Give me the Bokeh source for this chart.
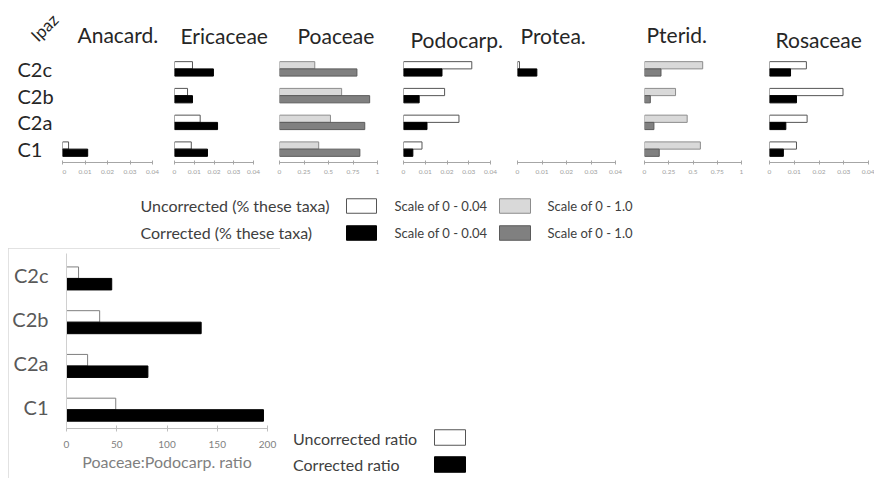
import math
from bokeh.plotting import figure
from bokeh.layouts import row, column
from bokeh.models import (Range1d, FactorRange, FixedTicker, NumeralTickFormatter,
                          ColumnDataSource, Spacer)
from bokeh.transform import dodge
from bokeh.embed import file_html
from bokeh.resources import INLINE
from bokeh.core.properties import value

NAN = float("nan")

# ---------------- data ----------------
samples = ["C1", "C2a", "C2b", "C2c"]          # bottom -> top
taxa = ["Anacard.", "Ericaceae", "Poaceae", "Podocarp.", "Protea.", "Pterid.", "Rosaceae"]
taxa_scale = [0.04, 0.04, 1.0, 0.04, 0.04, 1.0, 0.04]
ticks_small = [0, 0.01, 0.02, 0.03, 0.04]
ticks_large = [0, 0.25, 0.5, 0.75, 1.0]

anacard_uncorr = [0.0027, NAN, NAN, NAN]
anacard_corr = [0.0112, NAN, NAN, NAN]
ericaceae_uncorr = [0.0085, 0.0130, 0.0066, 0.0091]
ericaceae_corr = [0.0167, 0.0218, 0.0091, 0.0197]
poaceae_uncorr = [0.40, 0.52, 0.634, 0.36]
poaceae_corr = [0.82, 0.87, 0.92, 0.79]
podocarp_uncorr = [0.0085, 0.0255, 0.0189, 0.0314]
podocarp_corr = [0.0043, 0.0108, 0.0072, 0.0177]
protea_uncorr = [NAN, NAN, NAN, 0.0008]
protea_corr = [NAN, NAN, NAN, 0.0079]
pterid_uncorr = [0.576, 0.44, 0.32, 0.60]
pterid_corr = [0.152, 0.097, 0.06, 0.17]
rosaceae_uncorr = [0.0109, 0.0152, 0.0297, 0.0149]
rosaceae_corr = [0.0056, 0.0066, 0.0109, 0.0085]

ratio_uncorr = [49, 21, 33, 12]
ratio_corr = [196, 81, 134, 45]
ratio_ticks = [0, 50, 100, 150, 200]
ratio_title = "Poaceae:Podocarp. ratio"

uncorr_series = [anacard_uncorr, ericaceae_uncorr, poaceae_uncorr, podocarp_uncorr,
                 protea_uncorr, pterid_uncorr, rosaceae_uncorr]
corr_series = [anacard_corr, ericaceae_corr, poaceae_corr, podocarp_corr,
               protea_corr, pterid_corr, rosaceae_corr]

legend_rows = ["Uncorrected (% these taxa)", "Corrected (% these taxa)"]
legend_scales = ["Scale of 0 - 0.04", "Scale of 0 - 1.0"]
ratio_legend = ["Uncorrected ratio", "Corrected ratio"]
site_label = "Ipaz"

# ---------------- styles ----------------
FONT = "Lato"
DARK = "#262626"
small_uncorr = dict(fill_color="white", line_color="#555555")
small_corr = dict(fill_color="black", line_color="black")
large_uncorr = dict(fill_color="#d9d9d9", line_color="#8c8c8c")
large_corr = dict(fill_color="#808080", line_color="#5a5a5a")

TOP_H = 185
TOP_MB_TOP = 55
TOP_MB_BOT = 23
# (min_border_left, frame width, min_border_right, title offset, title standoff)
geom = [(0, 90, 11, 15, 17), (11, 79, 16, 6, 16), (10, 98, 13, 18, 16), (13, 87, 13, 7, 8),
        (14, 98, 14, 3, 16), (15, 97, 14, 2, 17), (14, 99, 6, 6, 8)]
BAR_H = 0.27


def clean(fig):
    fig.grid.visible = False
    fig.outline_line_color = None
    fig.background_fill_color = "white"
    fig.border_fill_color = "white"


def bare(width, height, xr, yr):
    f = figure(width=width, height=height, x_range=xr, y_range=yr,
               x_axis_type=None, y_axis_type=None, toolbar_location=None,
               output_backend="svg", min_border=0, min_border_left=0, min_border_right=0,
               min_border_top=0, min_border_bottom=0)
    clean(f)
    return f


def split(vals):
    ys, xs = [], []
    for s, v in zip(samples, vals):
        if not (isinstance(v, float) and math.isnan(v)):
            ys.append(s)
            xs.append(v)
    return ColumnDataSource(dict(sample=ys, val=xs))


# site label (rotated) above the sample labels
fi = bare(62, TOP_MB_TOP, Range1d(0, 62), Range1d(TOP_MB_TOP, 0))
fi.text(x=[37], y=[27], text=[site_label], angle=45, angle_units="deg",
        text_font=value(FONT), text_font_size=value("17px"), text_color=DARK,
        text_align="center", text_baseline="middle")

# sample labels, left aligned
f0 = figure(width=62, height=TOP_H - TOP_MB_TOP, x_range=Range1d(0, 1),
            y_range=FactorRange(*samples),
            x_axis_location=None, y_axis_location=None, toolbar_location=None,
            output_backend="svg", min_border_left=17, min_border_right=0,
            min_border_top=0, min_border_bottom=TOP_MB_BOT)
clean(f0)
f0.text(x=0, y="sample", text="sample", source=ColumnDataSource(dict(sample=samples)),
        text_font=value(FONT), text_font_size=value("20px"), text_color=DARK,
        text_align="left", text_baseline="middle")

figs = [column(fi, f0)]
for i, name in enumerate(taxa):
    mbl, fw, mbr, toff, tstand = geom[i]
    scale = taxa_scale[i]
    f = figure(width=mbl + fw + mbr, height=TOP_H, x_range=Range1d(0, scale),
               y_range=FactorRange(*samples), y_axis_location=None,
               toolbar_location=None, output_backend="svg",
               min_border_left=mbl, min_border_right=mbr,
               min_border_top=TOP_MB_TOP, min_border_bottom=TOP_MB_BOT, title=name)
    clean(f)
    f.title.align = "left"
    f.title.offset = toff
    f.title.standoff = tstand
    f.title.text_font = FONT
    f.title.text_font_size = "21px"
    f.title.text_font_style = "normal"
    f.title.text_color = DARK
    st_u, st_c = (small_uncorr, small_corr) if scale < 0.5 else (large_uncorr, large_corr)
    f.hbar(y=dodge("sample", BAR_H / 2, range=f.y_range), left=0, right="val",
           height=BAR_H, source=split(uncorr_series[i]), line_width=1, **st_u)
    f.hbar(y=dodge("sample", -BAR_H / 2, range=f.y_range), left=0, right="val",
           height=BAR_H, source=split(corr_series[i]), line_width=1, **st_c)
    ax = f.xaxis[0]
    ax.ticker = FixedTicker(ticks=ticks_small if scale < 0.5 else ticks_large)
    ax.formatter = NumeralTickFormatter(format="0.[00]")
    ax.axis_line_color = "#a6a6a6"
    ax.major_tick_line_color = "#a6a6a6"
    ax.major_tick_in = 2
    ax.major_tick_out = 2
    ax.minor_tick_line_color = None
    ax.major_label_text_font = FONT
    ax.major_label_text_font_size = "6.5px"
    ax.major_label_text_color = "#a0a0a0"
    ax.major_label_standoff = 5
    figs.append(f)

top = row(*figs)

# legend for the top panels
leg = bare(874, 60, Range1d(0, 874), Range1d(60, 0))
row_y = [20, 47]
leg.text(x=[140, 140], y=row_y, text=legend_rows, text_font=value(FONT),
         text_font_size=value("16px"), text_color="#404040", text_align="left",
         text_baseline="middle")
leg.text(x=[394, 394, 547, 547], y=row_y + row_y, text=[legend_scales[0]] * 2 + [legend_scales[1]] * 2,
         text_font=value(FONT), text_font_size=value("13px"), text_color="#404040",
         text_align="left", text_baseline="middle")
leg.rect(x=[361, 361], y=[20.5, 47.5], width=30, height=14.5,
         fill_color=[small_uncorr["fill_color"], small_corr["fill_color"]],
         line_color=[small_uncorr["line_color"], small_corr["line_color"]])
leg.rect(x=[514.5, 514.5], y=[20.5, 47.5], width=31, height=14.5,
         fill_color=[large_uncorr["fill_color"], large_corr["fill_color"]],
         line_color=[large_uncorr["line_color"], large_corr["line_color"]])

# ratio chart
RH = 0.263
ROFF = -0.07
fr = figure(width=272, height=230, x_range=Range1d(0, 200), y_range=FactorRange(*samples),
            toolbar_location=None, output_backend="svg",
            min_border_left=58, min_border_right=13, min_border_top=5, min_border_bottom=50,
            styles={"outline": "1px solid #d9d9d9", "outline-offset": "-1px"})
clean(fr)
src_r = ColumnDataSource(dict(sample=samples, unc=ratio_uncorr, cor=ratio_corr))
fr.hbar(y=dodge("sample", ROFF + RH / 2, range=fr.y_range), left=0, right="unc", height=RH,
        source=src_r, fill_color="white", line_color="#7f7f7f", line_width=1)
fr.hbar(y=dodge("sample", ROFF - RH / 2, range=fr.y_range), left=0, right="cor", height=RH,
        source=src_r, fill_color="black", line_color="black", line_width=1)
xa = fr.xaxis[0]
xa.ticker = FixedTicker(ticks=ratio_ticks)
xa.axis_line_color = "#bfbfbf"
xa.major_tick_line_color = "#bfbfbf"
xa.major_tick_in = 3
xa.major_tick_out = 3
xa.minor_tick_line_color = None
xa.major_label_text_font = FONT
xa.major_label_text_font_size = "10px"
xa.major_label_text_color = "#808080"
xa.major_label_standoff = 9
xa.axis_label = ratio_title
xa.axis_label_text_font = FONT
xa.axis_label_text_font_size = "16px"
xa.axis_label_text_font_style = "normal"
xa.axis_label_text_color = "#7f7f7f"
xa.axis_label_standoff = 1
ya = fr.yaxis[0]
ya.axis_line_color = "#d0d0d0"
ya.major_tick_line_color = None
ya.minor_tick_line_color = None
ya.major_label_text_font = FONT
ya.major_label_text_font_size = "20px"
ya.major_label_text_color = "#595959"
ya.major_label_standoff = 12

# ratio legend
rl = bare(594, 233, Range1d(0, 594), Range1d(233, 0))
rl.text(x=[12.5, 12.5], y=[192.5, 218.5], text=ratio_legend, text_font=value(FONT),
        text_font_size=value("16px"), text_color="#404040", text_align="left",
        text_baseline="middle")
rl.rect(x=[169.5, 169.5], y=[192, 219], width=31, height=15.5,
        fill_color=["white", "black"], line_color=["#555555", "black"])

bottom = row(Spacer(width=8, height=233),
             column(Spacer(width=272, height=3), fr),
             rl)

layout = column(top, leg, bottom)
open("out.html", "w").write(file_html(layout, INLINE))
